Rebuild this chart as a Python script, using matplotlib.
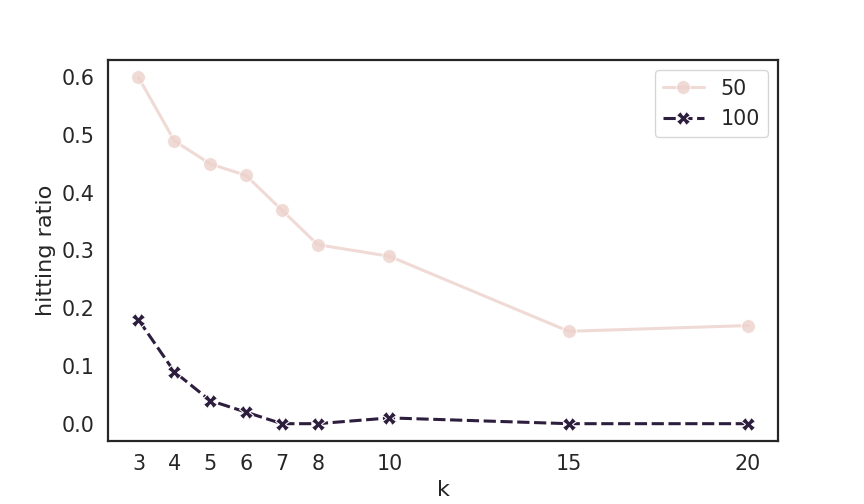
import matplotlib
matplotlib.use("Agg")
import numpy as np
import pandas as pd
import seaborn as sns
from matplotlib import pyplot as plt

k_values = [3, 4, 5, 6, 7, 8, 10, 15, 20]
ratio_50 = [0.60, 0.49, 0.45, 0.43, 0.37, 0.31, 0.29, 0.16, 0.17]
ratio_100 = [0.18, 0.09, 0.04, 0.02, 0.0, 0.0, 0.01, 0.0, 0.0]
groups = [50, 100]

sns.set_theme(style="white", font_scale=1.35)

df = pd.DataFrame({
    "k": k_values * 2,
    "hitting ratio": ratio_50 + ratio_100,
    "n": [groups[0]] * len(k_values) + [groups[1]] * len(k_values),
})

fig = plt.figure(figsize=(8.64, 5.04), dpi=100)
ax = fig.add_axes([0.125, 0.125, 0.776, 0.756])
sns.lineplot(data=df, x="k", y="hitting ratio", hue="n", style="n",
             markers=["o", "X"], markersize=10, linewidth=2.2, ax=ax)
# the light series looks faded in the original
ax.lines[0].set_alpha(0.8)
ax.set_xticks(k_values)
ax.set_yticks([0.0, 0.1, 0.2, 0.3, 0.4, 0.5, 0.6])
for s in ax.spines.values():
    s.set_color("#262626")
    s.set_linewidth(1.6)
leg = ax.legend(title=None, loc="upper right")
leg.get_lines()[0].set_alpha(0.8)
fig.savefig("out.png", dpi=100)
